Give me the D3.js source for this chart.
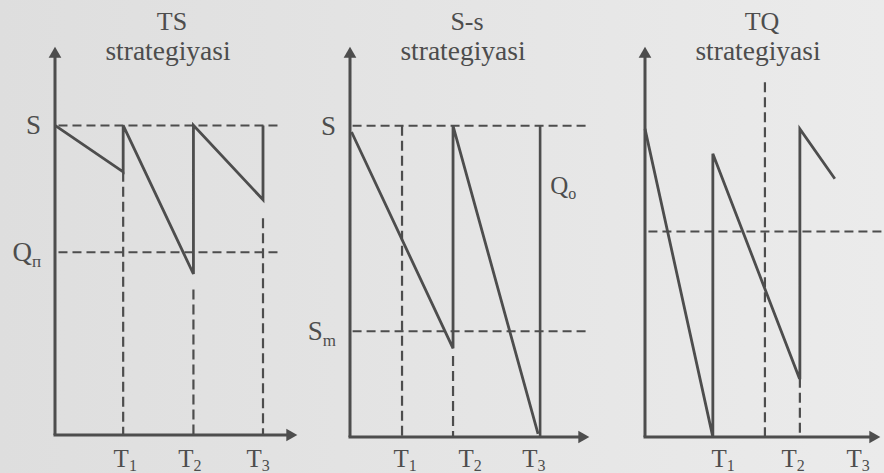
<!DOCTYPE html>
<html>
<head>
<meta charset="utf-8">
<script src="https://cdn.jsdelivr.net/npm/d3@7"></script>
<style>
  html, body { margin: 0; padding: 0; }
  svg { display: block; font-family: "Liberation Serif", "Times New Roman", serif; }
</style>
</head>
<body>
<svg width="884" height="473"></svg>
<script>
/*
    Ma'lumotlar: vaqt (x) va zaxira (y) birliklarida
*/
const titles   = ["TS", "S-s", "TQ"];
const subtitle = "strategiyasi";

// TS strategiyasi
const tsStock      = [[0,100],[0.98,85],[0.98,100],[1.99,52],[1.99,100],[2.99,76],[2.99,100]];
const tsLevels     = [100, 59];
const tsLevelNames = [["S",""], ["Q","п"]];
const tsDashedV    = [[0.98,85],[1.99,47],[2.99,70]];
const tsSolidV     = [];
const tsTickAt     = [1.01, 1.94, 2.92];
const tsTicks      = ["1", "2", "3"];

// S-s strategiyasi
const ssStock      = [[0.03,98],[2,28.5],[2,100],[3.65,1]];
const ssLevels     = [100, 34];
const ssLevelNames = [["S",""], ["S","m"]];
const ssDashedV    = [[1.01,100],[2,26]];
const ssSolidV     = [[3.69,100]];
const ssTickAt     = [1.07, 2.33, 3.57];
const ssTicks      = ["1", "2", "3"];
const ssExtra      = [[4.14, 81, "Q", "o"]];

// TQ strategiyasi
const tqStock      = [[0,99],[0.98,1],[0.99,0],[0.99,91],[2.25,19],[2.26,19],[2.26,99],[2.77,83]];
const tqLevels     = [66];
const tqLevelNames = [];
const tqDashedV    = [[1.75,114],[2.26,19]];
const tqSolidV     = [];
const tqTickAt     = [1.14, 2.16, 3.11];
const tqTicks      = ["1", "2", "3"];

const ink = "#4d4d4d";

function drawPanel(svg, p) {
    const x = d3.scaleLinear().domain([0, p.xMax]).range([p.x0, p.x1]);
    const y = d3.scaleLinear().domain([0, 125]).range([p.y0, 48]);
    const g = svg.append("g");

    // sarlavha
    g.append("text").attr("x", p.x0 + 117).attr("y", 30)
        .attr("text-anchor", "middle").attr("font-size", 26).attr("fill", ink)
        .text(p.title);
    g.append("text").attr("x", p.x0 + 113).attr("y", 60)
        .attr("text-anchor", "middle").attr("font-size", 27.5).attr("fill", ink)
        .text(subtitle);

    // gorizontal uzuq chiziqlar
    g.selectAll(".lvl").data(p.levels).enter().append("line")
        .attr("x1", x(0.05)).attr("x2", x(p.dashEnd))
        .attr("y1", d => y(d)).attr("y2", d => y(d))
        .attr("stroke", ink).attr("stroke-width", 2).attr("stroke-dasharray", "9,5");

    // vertikal uzuq chiziqlar
    g.selectAll(".dv").data(p.dashedV).enter().append("line")
        .attr("x1", d => x(d[0])).attr("x2", d => x(d[0]))
        .attr("y1", d => y(d[1])).attr("y2", y(0))
        .attr("stroke", ink).attr("stroke-width", 2.2).attr("stroke-dasharray", "10,5");

    g.selectAll(".sv").data(p.solidV).enter().append("line")
        .attr("x1", d => x(d[0])).attr("x2", d => x(d[0]))
        .attr("y1", d => y(d[1])).attr("y2", y(0))
        .attr("stroke", ink).attr("stroke-width", 2.6);

    // zaxira egri chizig'i
    const line = d3.line().x(d => x(d[0])).y(d => y(d[1]));
    g.append("path").attr("d", line(p.stock))
        .attr("fill", "none").attr("stroke", ink).attr("stroke-width", 2.8)
        .attr("stroke-linejoin", "miter");

    // o'qlar
    g.append("line").attr("x1", x(0)).attr("x2", x(0)).attr("y1", y(0)).attr("y2", y(123))
        .attr("stroke", ink).attr("stroke-width", 3);
    g.append("line").attr("x1", x(0) - 1.5).attr("x2", x(p.xMax) - 6).attr("y1", y(0)).attr("y2", y(0))
        .attr("stroke", ink).attr("stroke-width", 3);
    const tri = d3.symbol(d3.symbolTriangle, 70);
    g.append("path").attr("d", tri())
        .attr("transform", `translate(${x(0)},${y(125) + 6})`).attr("fill", ink);
    g.append("path").attr("d", tri())
        .attr("transform", `translate(${x(p.xMax) - 5},${y(0)}) rotate(90)`).attr("fill", ink);

    // daraja nomlari
    const lab = g.selectAll(".lab").data(p.levelNames).enter().append("text")
        .attr("x", p.x0 - 14).attr("y", (d, i) => y(p.levels[i]) + 9)
        .attr("text-anchor", "end").attr("font-size", 27).attr("fill", ink);
    lab.append("tspan").text(d => d[0]);
    lab.append("tspan").attr("font-size", 17).attr("dy", 6).text(d => d[1]);

    const ex = g.selectAll(".ex").data(p.extra).enter().append("text")
        .attr("x", d => x(d[0])).attr("y", d => y(d[1]) + 9)
        .attr("text-anchor", "middle").attr("font-size", 25).attr("fill", ink);
    ex.append("tspan").text(d => d[2]);
    ex.append("tspan").attr("font-size", 16).attr("dy", 5).text(d => d[3]);

    // T belgilari
    const tk = g.selectAll(".tk").data(p.ticks).enter().append("text")
        .attr("x", (d, i) => x(p.tickAt[i])).attr("y", 467)
        .attr("text-anchor", "middle").attr("font-size", 25).attr("fill", ink);
    tk.append("tspan").text("T");
    tk.append("tspan").attr("font-size", 16).attr("dy", 4).text(d => d);
}

const svg = d3.select("svg");

const bg = svg.append("defs").append("linearGradient").attr("id", "paper");
bg.append("stop").attr("offset", "0%").attr("stop-color", "#dedede");
bg.append("stop").attr("offset", "100%").attr("stop-color", "#ebebeb");
svg.append("rect").attr("width", 884).attr("height", 473).attr("fill", "url(#paper)");

drawPanel(svg, { title: titles[0], x0: 55, x1: 295, y0: 435, xMax: 3.45, dashEnd: 3.24,
    stock: tsStock, levels: tsLevels, levelNames: tsLevelNames, dashedV: tsDashedV,
    solidV: tsSolidV, tickAt: tsTickAt, ticks: tsTicks, extra: [] });

drawPanel(svg, { title: titles[1], x0: 350, x1: 587, y0: 437, xMax: 4.6, dashEnd: 4.66,
    stock: ssStock, levels: ssLevels, levelNames: ssLevelNames, dashedV: ssDashedV,
    solidV: ssSolidV, tickAt: ssTickAt, ticks: ssTicks, extra: ssExtra });

drawPanel(svg, { title: titles[2], x0: 645, x1: 878, y0: 437, xMax: 3.4, dashEnd: 3.5,
    stock: tqStock, levels: tqLevels, levelNames: tqLevelNames, dashedV: tqDashedV,
    solidV: tqSolidV, tickAt: tqTickAt, ticks: tqTicks, extra: [] });
</script>
</body>
</html>
